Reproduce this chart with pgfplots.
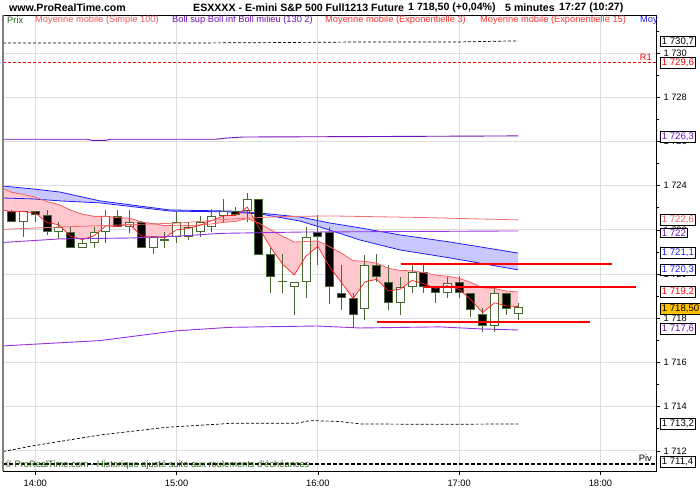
\documentclass[border=0pt]{standalone}
\usepackage{pgfplots}
\pgfplotsset{compat=1.18}
\usepgfplotslibrary{fillbetween}
\usepackage{pgfplotstable}
\usepackage{fontspec}
\setmainfont{Liberation Sans}

\definecolor{cg}{RGB}{70,105,50}
\definecolor{txtgreen}{RGB}{40,100,20}
\definecolor{smacol}{RGB}{240,110,110}
\definecolor{bollcol}{RGB}{150,50,225}
\definecolor{bolldark}{RGB}{115,15,185}
\definecolor{bluecol}{RGB}{30,30,250}
\definecolor{bluefill}{RGB}{200,200,255}
\definecolor{emacol}{RGB}{255,30,30}
\definecolor{ema15col}{RGB}{250,95,95}
\definecolor{pinkfill}{RGB}{255,200,206}
\definecolor{gridcol}{RGB}{222,222,222}
\definecolor{pricebox}{RGB}{255,192,0}
\definecolor{legred}{RGB}{255,50,50}
\definecolor{legsma}{RGB}{240,90,90}

\pgfplotstableread{
t o h l c
-5 1722.36 1722.85 1721.68 1722.85
10 1721.90 1722.36 1721.59 1722.13
20 1721.18 1721.63 1721.18 1721.41
25 1721.41 1722.13 1721.18 1721.90
30 1721.90 1722.90 1721.41 1722.63
40 1722.13 1722.90 1721.86 1722.36
50 1721.18 1721.68 1720.91 1721.68
60 1721.68 1722.81 1721.41 1722.36
65 1721.68 1722.36 1721.54 1722.13
70 1721.90 1722.63 1721.68 1722.36
75 1722.13 1722.94 1721.90 1722.63
80 1722.63 1723.40 1722.36 1722.85
90 1722.85 1723.67 1722.36 1723.40
110 1719.42 1719.64 1718.15 1719.64
115 1719.64 1722.13 1718.92 1721.68
140 1718.40 1720.86 1717.92 1720.41
155 1718.69 1719.87 1718.15 1719.42
160 1719.42 1720.41 1719.15 1720.10
175 1719.15 1719.87 1718.92 1719.60
195 1717.65 1719.42 1717.38 1719.15
205 1718.20 1718.69 1717.92 1718.50
}\candUp

\pgfplotstableread{
t o h l c
-10 1722.85 1722.90 1722.36 1722.36
0 1722.85 1722.85 1722.36 1722.67
5 1722.67 1722.90 1721.77 1721.90
15 1721.90 1722.13 1721.18 1721.18
35 1722.63 1722.90 1722.13 1722.13
45 1722.36 1722.40 1721.18 1721.18
85 1722.85 1723.03 1722.67 1722.67
95 1723.40 1723.40 1720.86 1720.86
100 1720.91 1721.18 1719.15 1719.87
120 1721.90 1722.67 1720.41 1721.68
125 1721.90 1722.13 1718.65 1719.42
130 1719.15 1720.41 1718.38 1718.92
135 1718.92 1719.15 1717.61 1718.15
145 1720.41 1720.91 1719.64 1719.87
150 1719.64 1720.41 1718.38 1718.69
165 1720.10 1720.41 1719.15 1719.42
170 1719.42 1719.42 1718.69 1719.15
180 1719.64 1719.91 1718.92 1719.15
185 1719.15 1719.15 1718.06 1718.38
190 1718.20 1718.47 1717.38 1717.65
200 1719.15 1719.15 1718.15 1718.42
}\candDown

\pgfplotstableread{
t o h l c
55 1721.54 1721.90 1721.18 1721.54
105 1719.66 1720.91 1719.15 1719.66
}\candDoji

\pgfplotsset{
  candbase/.style={only marks, mark=*, mark size=0.01pt,
    mark options={draw opacity=0, fill opacity=0}, forget plot},
  wick/.style={candbase,
    error bars/.cd, y dir=plus, y explicit, error mark=none,
    error bar style={line width=1pt, color=cg}},
  bodyo/.style={candbase,
    error bars/.cd, y dir=plus, y explicit, error mark=none,
    error bar style={line width=9pt, color=cg}},
  bodyw/.style={candbase,
    error bars/.cd, y dir=plus, y explicit, error mark=none,
    error bar style={line width=7pt, color=white}},
  bodyb/.style={candbase,
    error bars/.cd, y dir=plus, y explicit, error mark=none,
    error bar style={line width=7pt, color=black}},
}

\tikzset{vbox/.style={draw=black, fill=white, line width=0.6pt, inner xsep=1.6pt, inner ysep=1.5pt,
  font=\fontsize{9.6}{10}\selectfont, anchor=west, xshift=4pt}}

\begin{document}
\begin{tikzpicture}
\begin{axis}[
  at={(3pt,29pt)}, anchor=south west,
  width=653pt, height=456pt, scale only axis,
  xmin=-13.7, xmax=263.6, ymin=1711.09, ymax=1731.72,
  clip mode=individual,
  axis line style={black, line width=0.8pt},
  xtick={0,60,120,180,240}, xticklabels={14:00,15:00,16:00,17:00,18:00},
  xtick pos=left,
  ytick={1712,1714,1716,1718,1720,1722,1724,1726,1728,1730},
  yticklabels={1 712,1 714,1 716,1 718,1 720,1 722,1 724,1 726,1 728,1 730},
  minor ytick={1711,1713,1715,1717,1719,1721,1723,1725,1727,1729,1731},
  ytick pos=right, yticklabel pos=right,
  tick align=outside,
  major tick length=4pt, minor tick length=3pt,
  tick style={black, line width=0.6pt},
  grid=major, major grid style={gridcol, line width=0.8pt},
  ticklabel style={font=\fontsize{9.3}{10}\selectfont},
  xticklabel style={yshift=-1pt},
]
% blue band
\addplot[bluecol, line width=0.8pt, name path=bu] coordinates {(-13.7,1723.98) (-1.0,1723.85) (10.5,1723.71) (27.5,1723.31) (57.2,1722.90) (82.7,1722.85) (95.4,1722.76) (112.4,1722.58) (125.1,1722.31) (137.9,1722.09) (154.9,1721.77) (176.1,1721.45) (205,1720.95)};
\addplot[bluecol, line width=0.8pt, name path=bl] coordinates {(-13.7,1723.44) (-1.0,1723.40) (10.5,1723.31) (27.5,1723.22) (57.2,1722.85) (82.7,1722.81) (95.4,1722.72) (112.4,1722.40) (125.1,1721.99) (137.9,1721.54) (154.9,1721.09) (176.1,1720.73) (205,1720.19)};
\addplot[bluefill] fill between[of=bu and bl];
% EMA band
\addplot[draw=none, name path=e3] coordinates {(-13.7,1722.90) (-10,1722.81) (-5,1722.83) (0,1722.76) (5,1722.33) (10,1722.23) (15,1721.71) (20,1721.56) (25,1721.73) (30,1722.18) (35,1722.15) (40,1722.26) (45,1721.72) (50,1721.70) (55,1721.64) (60,1722.00) (65,1722.06) (70,1722.21) (75,1722.42) (80,1722.64) (85,1722.65) (90,1723.03) (95,1722.10) (100,1721.20) (105,1720.45) (110,1719.96) (115,1720.82) (120,1721.25) (125,1720.33) (130,1719.62) (135,1718.89) (140,1719.65) (145,1719.76) (150,1719.23) (155,1719.32) (160,1719.71) (165,1719.56) (170,1719.35) (175,1719.48) (180,1719.31) (185,1718.84) (190,1718.25) (195,1718.70) (200,1718.56) (205,1718.53)};
\addplot[draw=none, name path=e15] coordinates {(-13.7,1723.87) (-10,1723.70) (-5,1723.60) (0,1723.48) (5,1723.28) (10,1723.14) (15,1722.89) (20,1722.71) (25,1722.61) (30,1722.61) (35,1722.55) (40,1722.53) (45,1722.36) (50,1722.28) (55,1722.19) (60,1722.21) (65,1722.20) (70,1722.22) (75,1722.27) (80,1722.34) (85,1722.38) (90,1722.51) (95,1722.30) (100,1722.00) (105,1721.71) (110,1721.45) (115,1721.47) (120,1721.50) (125,1721.24) (130,1720.95) (135,1720.60) (140,1720.58) (145,1720.49) (150,1720.26) (155,1720.16) (160,1720.15) (165,1720.06) (170,1719.95) (175,1719.90) (180,1719.81) (185,1719.62) (190,1719.38) (195,1719.35) (200,1719.23) (205,1719.19)};
\addplot[pinkfill] fill between[of=e3 and e15];

% candles: wicks
\addplot[wick] table[x=t, y=l, y error plus expr=\thisrow{h}-\thisrow{l}] {\candUp};
\addplot[wick] table[x=t, y=l, y error plus expr=\thisrow{h}-\thisrow{l}] {\candDown};
\addplot[wick] table[x=t, y=l, y error plus expr=\thisrow{h}-\thisrow{l}] {\candDoji};
% bodies
\addplot[bodyo] table[x=t, y=o, y error plus expr=\thisrow{c}-\thisrow{o}] {\candUp};
\addplot[bodyw] table[x=t, y expr=\thisrow{o}+0.045, y error plus expr=\thisrow{c}-\thisrow{o}-0.09] {\candUp};
\addplot[bodyo] table[x=t, y=c, y error plus expr=\thisrow{o}-\thisrow{c}] {\candDown};
\addplot[bodyb] table[x=t, y expr=\thisrow{c}+0.045, y error plus expr=\thisrow{o}-\thisrow{c}-0.09] {\candDown};
\addplot[bodyo] table[x=t, y expr=\thisrow{o}-0.025, y error plus expr=0.05] {\candDoji};

% EMA lines
\addplot[ema15col, line width=0.8pt] coordinates {(-13.7,1723.87) (-10,1723.70) (-5,1723.60) (0,1723.48) (5,1723.28) (10,1723.14) (15,1722.89) (20,1722.71) (25,1722.61) (30,1722.61) (35,1722.55) (40,1722.53) (45,1722.36) (50,1722.28) (55,1722.19) (60,1722.21) (65,1722.20) (70,1722.22) (75,1722.27) (80,1722.34) (85,1722.38) (90,1722.51) (95,1722.30) (100,1722.00) (105,1721.71) (110,1721.45) (115,1721.47) (120,1721.50) (125,1721.24) (130,1720.95) (135,1720.60) (140,1720.58) (145,1720.49) (150,1720.26) (155,1720.16) (160,1720.15) (165,1720.06) (170,1719.95) (175,1719.90) (180,1719.81) (185,1719.62) (190,1719.38) (195,1719.35) (200,1719.23) (205,1719.19)};
\addplot[emacol, line width=0.7pt] coordinates {(-13.7,1722.90) (-10,1722.81) (-5,1722.83) (0,1722.76) (5,1722.33) (10,1722.23) (15,1721.71) (20,1721.56) (25,1721.73) (30,1722.18) (35,1722.15) (40,1722.26) (45,1721.72) (50,1721.70) (55,1721.64) (60,1722.00) (65,1722.06) (70,1722.21) (75,1722.42) (80,1722.64) (85,1722.65) (90,1723.03) (95,1722.10) (100,1721.20) (105,1720.45) (110,1719.96) (115,1720.82) (120,1721.25) (125,1720.33) (130,1719.62) (135,1718.89) (140,1719.65) (145,1719.76) (150,1719.23) (155,1719.32) (160,1719.71) (165,1719.56) (170,1719.35) (175,1719.48) (180,1719.31) (185,1718.84) (190,1718.25) (195,1718.70) (200,1718.56) (205,1718.53)};
% SMA 100
\addplot[smacol, line width=0.8pt] coordinates {(-13.7,1722.02) (10.5,1722.13) (36,1722.22) (61.4,1722.31) (82.7,1722.49) (103.9,1722.60) (125.1,1722.63) (163.3,1722.56) (205,1722.45)};
% Bollinger
\addplot[bolldark, line width=0.9pt] coordinates {(-13.7,1726.10) (22,1726.10) (24,1726.05) (30,1726.05) (32,1726.10) (77,1726.10) (81,1726.15) (88,1726.20) (140,1726.22) (205,1726.25)};
\addplot[bollcol, line width=0.9pt] coordinates {(-13.7,1721.43) (10.5,1721.59) (40.2,1721.63) (61.4,1721.72) (78.4,1721.84) (112.4,1721.90) (205,1721.95)};
\addplot[bollcol, line width=0.9pt] coordinates {(-13.7,1716.75) (27.5,1716.99) (59.7,1717.43) (82.7,1717.59) (119.6,1717.65) (137.9,1717.56) (171.8,1717.61) (188.8,1717.52) (205,1717.47)};
% outer dashed envelopes
\addplot[black, line width=0.7pt, dash pattern=on 3pt off 2pt] coordinates {(-13.7,1730.45) (20,1730.45) (60,1730.45) (100,1730.47) (140,1730.50) (180,1730.50) (205,1730.55)};
\addplot[black, line width=0.7pt, dash pattern=on 3pt off 2pt] coordinates {(-13.7,1711.97) (-1,1712.23) (27.5,1712.72) (55.9,1713.07) (84,1713.25) (111.1,1713.25) (116.6,1713.37) (129.4,1713.33) (137.9,1713.22) (170,1713.2) (205,1713.22)};
% pivots
\addplot[red, line width=0.7pt, dash pattern=on 3pt off 2pt] coordinates {(-13.7,1729.6) (263.6,1729.6)};
\addplot[black, line width=1.3pt, dash pattern=on 4pt off 2pt] coordinates {(-13.7,1711.4) (263.6,1711.4)};
% drawn horizontal lines
\addplot[red, line width=2pt] coordinates {(155.3,1720.46) (244.9,1720.46)};
\addplot[red, line width=2pt] coordinates {(164.6,1719.42) (255.0,1719.42)};
\addplot[red, line width=2pt] coordinates {(145.3,1717.83) (235.5,1717.83)};

% labels
\node[anchor=south east, text=red, font=\fontsize{9.3}{10}\selectfont, inner sep=1pt, xshift=-3pt] at (axis cs:263.6,1729.6) {R1};
\node[anchor=south east, text=black, font=\fontsize{9.3}{10}\selectfont, inner sep=1pt, xshift=-3pt, yshift=1pt] at (axis cs:263.6,1711.4) {Piv};
% value boxes
\node[vbox, text=black] at (axis cs:263.6,1730.53) {1 730,7};
\node[vbox, text=red] at (axis cs:263.6,1729.57) {1 729,6};
\node[vbox, text=bolldark] at (axis cs:263.6,1726.20) {1 726,3};
\node[vbox, text=legsma] at (axis cs:263.6,1722.45) {1 722,6};
\node[vbox, text=bolldark] at (axis cs:263.6,1721.86) {1 722};
\node[vbox, text=bluecol] at (axis cs:263.6,1720.95) {1 721,1};
\node[vbox, text=bluecol] at (axis cs:263.6,1720.19) {1 720,3};
\node[vbox, text=red] at (axis cs:263.6,1719.19) {1 719,2};
\node[vbox, fill=pricebox, text=black] at (axis cs:263.6,1718.42) {1 718,50};
\node[vbox, text=bolldark] at (axis cs:263.6,1717.52) {1 717,6};
\node[vbox, text=black] at (axis cs:263.6,1713.22) {1 713,2};
\node[vbox, text=black] at (axis cs:263.6,1711.52) {1 711,4};
\end{axis}

\draw[gray, line width=1.6pt] (3pt,29pt) -- (3pt,485pt);
% header
\begin{scope}[every node/.style={anchor=west, font=\bfseries\fontsize{10.6}{12}\selectfont, inner sep=0pt}]
\node at (9pt,492.5pt) {www.ProRealTime.com};
\node at (193pt,492.5pt) {ESXXXX - E-mini S\&P 500 Full1213 Future};
\node at (408pt,492.5pt) {1 718,50 (+0,04\%)};
\node at (505pt,492.5pt) {5 minutes};
\node at (559pt,492.5pt) {17:27 (10:27)};
\end{scope}
% legend row
\begin{scope}[every node/.style={anchor=west, font=\fontsize{9.3}{11}\selectfont, inner sep=0pt}]
\node[text=txtgreen] at (7pt,479.5pt) {Prix};
\node[text=legsma] at (35pt,479.5pt) {Moyenne mobile (Simple 100)};
\node[text=bolldark] at (172pt,479.5pt) {Boll sup Boll inf Boll milieu (130 2)};
\node[text=legred] at (325pt,479.5pt) {Moyenne mobile (Exponentielle 3)};
\node[text=legred] at (480pt,479.5pt) {Moyenne mobile (Exponentielle 15)};
\node[text=bluecol] at (640pt,479.5pt) {Moy};
\end{scope}
\node[anchor=west, text=txtgreen, font=\fontsize{9.3}{10}\selectfont, inner sep=0pt] at (5pt,34.5pt) {© ProRealTime.com - Historique ajusté suite aux roulements d'échéances};
\pgfresetboundingbox
\path (0,0) rectangle (700pt,500pt);
\end{tikzpicture}
\end{document}
